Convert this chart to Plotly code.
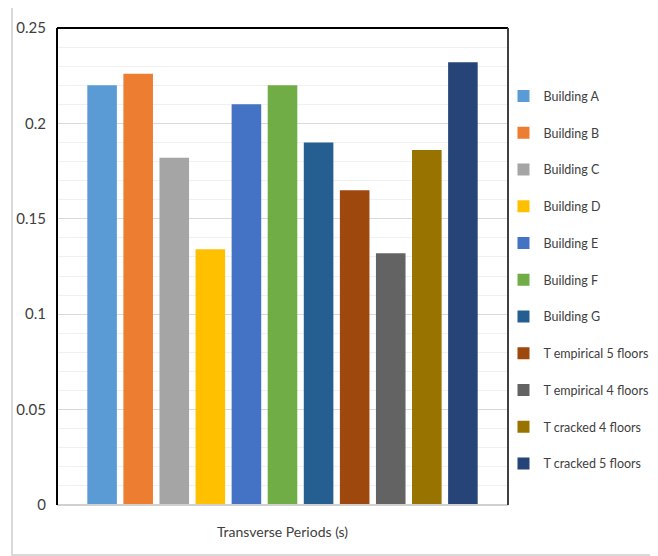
import plotly.graph_objects as go

series_names = ["Building A", "Building B", "Building C", "Building D", "Building E",
                "Building F", "Building G", "T empirical 5 floors", "T empirical 4 floors",
                "T cracked 4 floors", "T cracked 5 floors"]
values = [0.220, 0.226, 0.182, 0.134, 0.210, 0.220, 0.190, 0.165, 0.132, 0.186, 0.232]
colors = ["#5B9BD5", "#ED7D31", "#A5A5A5", "#FFC000", "#4472C4", "#70AD47",
          "#255E91", "#9E480E", "#636363", "#997300", "#264478"]
category = ["Transverse Periods (s)"]
y_tickvals = [0, 0.05, 0.1, 0.15, 0.2, 0.25]
y_ticktext = ["0", "0.05", "0.1", "0.15", "0.2", "0.25"]

FONT = "Lato, Liberation Sans, sans-serif"

fig = go.Figure()
for i, (name, v, c) in enumerate(zip(series_names, values, colors)):
    fig.add_trace(go.Bar(x=category, y=[v], name=name, marker_color=c,
                         marker_line_width=0, legendgroup=f"g{i}"))

# page has an 8px body margin, so the figure is 8px smaller and shifted
fig.update_layout(
    width=650, height=548,
    margin=dict(l=49, r=150, t=20, b=51, autoexpand=False),
    paper_bgcolor="white", plot_bgcolor="white",
    barmode="group", bargap=0.12, bargroupgap=0.18,
    font=dict(family=FONT, size=13, color="#404040"),
    showlegend=True,
    legend=dict(x=0.99, y=0.472, yanchor="middle", xanchor="left",
                bgcolor="rgba(0,0,0,0)",
                font=dict(family=FONT, size=12.5, color="#404040"),
                tracegroupgap=17.5, itemwidth=30),
    xaxis=dict(showticklabels=False, showline=False, showgrid=False,
               title=dict(text=category[0], font=dict(family=FONT, size=14, color="#404040"),
                          standoff=22)),
    yaxis=dict(range=[0, 0.25], tickvals=y_tickvals, ticktext=y_ticktext,
               showgrid=True, gridcolor="#d9d9d9", gridwidth=1,
               minor=dict(dtick=0.01, showgrid=True, gridcolor="#f0f0f0", gridwidth=1),
               zeroline=False, showline=False, ticks="",
               tickfont=dict(family=FONT, size=15, color="#404040"), ticklabelstandoff=10),
)

shapes = [
    # outer chart border
    dict(type="rect", xref="paper", yref="paper", x0=-0.0998, x1=1.326, y0=-0.1048, y1=1.050,
         line=dict(color="#d9d9d9", width=2), layer="below"),
    # plot area edges
    dict(type="line", xref="paper", yref="paper", x0=0, x1=1, y0=0, y1=0,
         line=dict(color="#d0d0d0", width=2)),
    dict(type="line", xref="paper", yref="paper", x0=0, x1=1, y0=1, y1=1,
         line=dict(color="black", width=2)),
    dict(type="line", xref="paper", yref="paper", x0=0, x1=0, y0=0, y1=1,
         line=dict(color="black", width=2)),
    dict(type="line", xref="paper", yref="paper", x0=1, x1=1, y0=0, y1=1,
         line=dict(color="#404040", width=2)),
]
fig.update_layout(shapes=shapes)

fig.write_html("out.html")
